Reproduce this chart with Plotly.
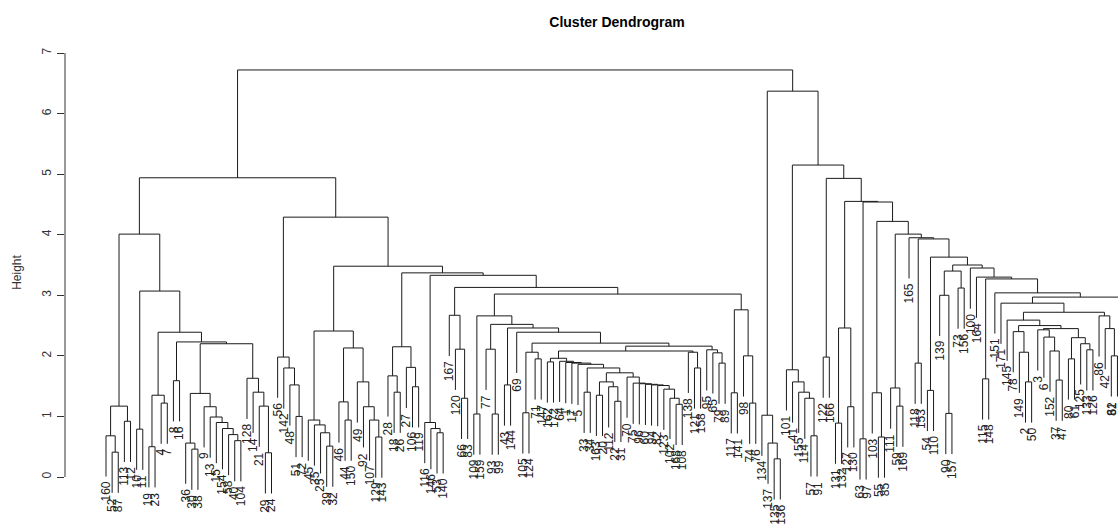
import plotly.graph_objects as go

# Leaf labels in dendrogram order (left to right)
leaf_labels = [
    "160", "52", "87", "113", "12", "10", "11", "19", "23", "4", "7", "8", "16", "36", "30", "38",
    "9", "13", "15", "154", "58", "40", "104", "128", "14", "21", "29", "24",
    "56", "142", "48", "51", "72", "45", "35", "25", "39", "32", "46", "44", "150", "49", "92",
    "107", "129", "143", "28", "18", "26", "27", "106", "119", "116", "146", "53", "140",
    "167", "120", "66", "83",
    "109", "159", "77", "93", "99", "43", "144", "69", "105", "124", "71", "147",
    "162", "172", "64", "1", "17", "5", "33", "34", "163", "20", "112", "22", "31", "70", "75",
    "96", "60", "94", "82", "123", "102", "168", "108",
    "138", "121", "158", "95", "65", "79", "89", "117", "141", "98", "74", "76",
    "134", "137", "135", "136", "101", "41", "155", "114", "57", "91", "122", "166",
    "131", "132", "127", "130", "63", "97", "103", "55", "85", "111", "59", "169", "165",
    "118", "153", "54", "110", "139", "90", "157", "73", "156", "100", "164", "115", "148",
    "151", "171", "145", "78", "149", "2", "50", "3", "6", "152", "37", "47", "80", "61",
    "125", "133", "126", "86", "42", "81", "62", "68", "88", "173",
]

# Height at which each leaf joins the next leaf to its right
merge_heights = [
    0.68, 0.41, 1.17, 0.92, 4.01, 0.79, 3.07, 0.50, 1.35, 1.22, 2.39, 1.59, 2.23, 0.56, 0.46, 1.38,
    1.16, 0.99, 0.90, 0.80, 0.70, 0.60, 2.20, 1.63, 1.40, 1.17, 0.40, 4.94,
    1.98, 1.80, 1.52, 1.00, 4.29, 0.94, 0.86, 0.73, 0.51, 2.41, 1.24, 0.94, 2.13, 1.57, 1.16,
    0.94, 0.66, 3.48, 1.67, 1.40, 2.15, 1.81, 1.49, 3.37, 0.90, 0.80, 0.73, 3.33,
    2.67, 2.11, 1.30, 3.13,
    1.04, 2.66, 2.11, 1.04, 2.52, 1.52, 2.46, 2.39, 1.06, 2.06, 1.95, 2.21,
    1.90, 1.96, 1.91, 1.89, 1.88, 1.86, 1.40, 1.80, 1.35, 1.57, 1.49, 1.25, 1.72, 1.65, 1.55,
    1.54, 1.53, 1.52, 1.51, 1.45, 1.30, 1.20, 2.08,
    2.06, 1.80, 2.16, 2.10, 2.05, 1.88, 3.02, 1.39, 2.76, 2.00, 1.22, 6.72,
    1.02, 0.56, 0.30, 6.37, 1.77, 1.57, 1.40, 1.30, 0.68, 5.15, 1.98, 4.93,
    0.89, 2.46, 1.16, 4.55, 0.63, 4.54, 1.39, 0.66, 4.22, 1.47, 1.17, 4.01, 3.95,
    1.88, 3.93, 1.43, 3.63, 3.00, 1.05, 3.40, 3.12, 3.50, 3.45, 3.30, 1.62, 3.27,
    3.04, 2.87, 2.59, 2.40, 2.06, 1.57, 2.50, 2.43, 2.31, 2.08, 1.60, 2.45, 1.95, 2.30,
    2.20, 2.10, 2.72, 2.66, 2.45, 2.00, 2.97, 2.20, 1.80,
]

y_ticks = [0, 1, 2, 3, 4, 5, 6, 7]

n = len(leaf_labels)
assert len(merge_heights) == n - 1, (n, len(merge_heights))
hang = 0.1 * max(merge_heights)

xs, ys = [], []
leaf_bottom = {}


def build(lo, hi):
    """Return (x_center, height) of the subtree holding leaves lo..hi."""
    if lo == hi:
        return lo + 1, None
    seg = merge_heights[lo:hi]
    k = lo + seg.index(max(seg))
    h = merge_heights[k]
    lx, lh = build(lo, k)
    rx, rh = build(k + 1, hi)
    lb = lh if lh is not None else h - hang
    rb = rh if rh is not None else h - hang
    if lh is None:
        leaf_bottom[lo] = lb
    if rh is None:
        leaf_bottom[hi] = rb
    xs.extend([lx, lx, rx, rx, None])
    ys.extend([lb, h, h, rb, None])
    return (lx + rx) / 2, h


build(0, n - 1)

# pixel mapping: leaf 1 at x=106 px, spacing ~6.13 px, plot starts at 65 px
W, H = 1118, 525
ml, mr, mt, mb = 65, 0, 40, 20
spacing = 6.13
xmin = 1 - (106 - ml) / spacing
xmax = xmin + (W - ml - mr) / spacing
ppu = (477 - 53) / 7.0
ymax = 7 + (53 - mt) / ppu
ymin = -((H - mb) - 477) / ppu

fig = go.Figure()
fig.add_trace(go.Scatter(x=xs, y=ys, mode="lines",
                         line=dict(color="#1a1a1a", width=1),
                         hoverinfo="skip", showlegend=False))

annotations = []
for i, lab in enumerate(leaf_labels):
    x = i + 1
    if x > xmax + 0.5:
        continue
    px = ml + (x - xmin) * spacing
    shift = min(0, (W - 6) - px)  # keep the edge label fully inside the page
    annotations.append(dict(
        x=x, y=leaf_bottom[i], xref="x", yref="y", text=lab, showarrow=False,
        textangle=-90, xanchor="center", yanchor="top", yshift=-3, xshift=shift,
        font=dict(family="Liberation Sans, Arial, sans-serif", size=12, color="#222"),
    ))

fig.update_layout(
    width=W, height=H,
    margin=dict(l=ml, r=mr, t=mt, b=mb),
    paper_bgcolor="white", plot_bgcolor="white",
    title=dict(text="<b>Cluster Dendrogram</b>", x=617 / W, xanchor="center",
               y=1 - 22 / H, yanchor="middle", xref="container", yref="container",
               font=dict(family="Liberation Sans, Arial, sans-serif", size=14, color="#000")),
    xaxis=dict(range=[xmin, xmax], visible=False, fixedrange=True),
    yaxis=dict(range=[ymin, ymax], tickvals=y_ticks, ticks="outside", ticklen=7,
               tickcolor="#333", showgrid=False, zeroline=False, showline=False,
               tickangle=-90, ticklabelstandoff=1,
               tickfont=dict(family="Liberation Sans, Arial, sans-serif", size=12, color="#333"),
               title=dict(text="Height", standoff=16,
                          font=dict(family="Liberation Sans, Arial, sans-serif", size=12, color="#333"))),
    annotations=annotations,
    shapes=[dict(type="line", xref="paper", yref="y", x0=0, x1=0, y0=0, y1=7,
                 line=dict(color="#333", width=1))],
)

fig.write_html("out.html")
